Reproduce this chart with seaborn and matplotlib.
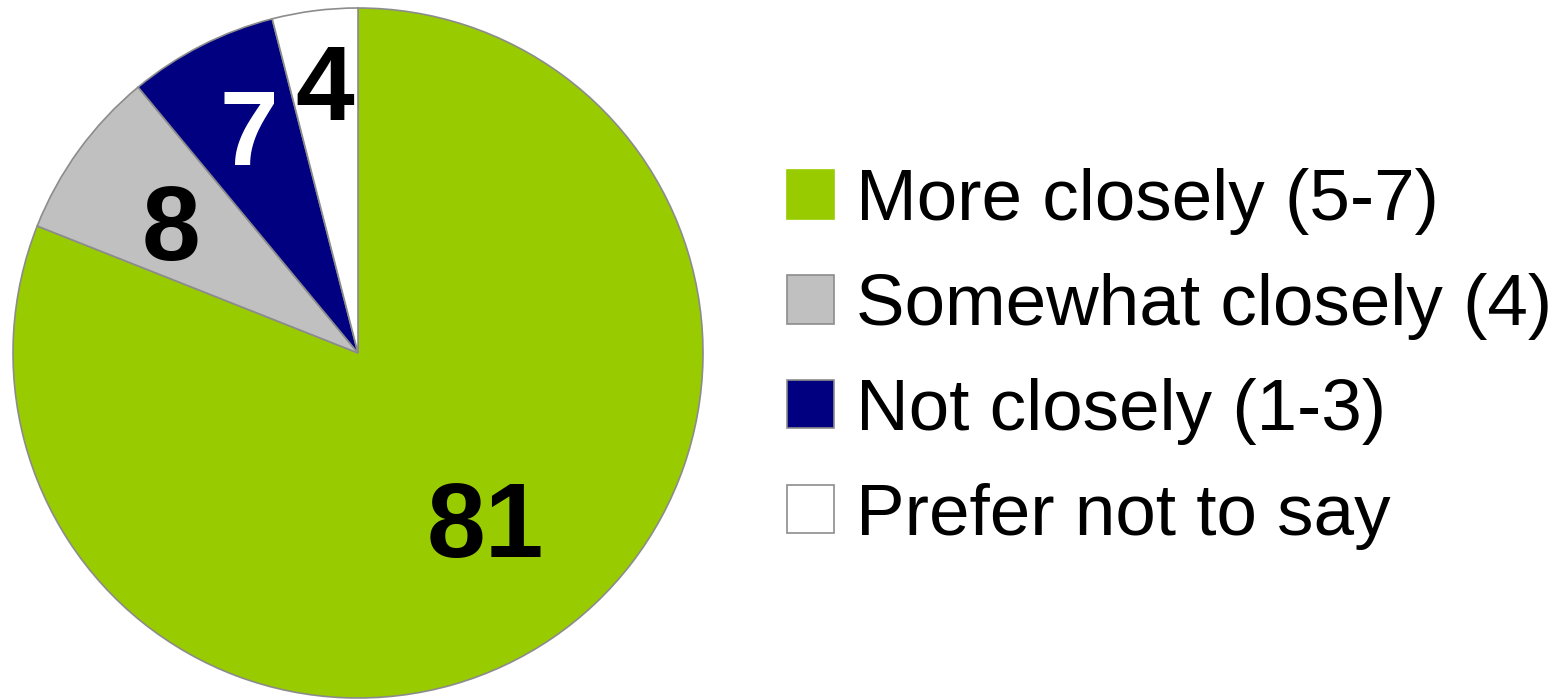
import matplotlib
matplotlib.use("Agg")
import matplotlib.pyplot as plt
import seaborn as sns
import numpy as np

sns.set_theme(style="white")
plt.rcParams['font.family'] = ['Liberation Sans', 'DejaVu Sans']
plt.rcParams['text.color'] = 'black'

categories = ["More closely (5-7)", "Somewhat closely (4)", "Not closely (1-3)", "Prefer not to say"]
values = [81, 8, 7, 4]
colors = ["#99cc00", "#c0c0c0", "#000080", "#ffffff"]
label_colors = ["black", "black", "white", "black"]
label_dist = [0.63, 0.645, 0.70, 0.76]
label_turn = [1.7, 3.1, 0.0, 0.0]

W, H = 1556, 699
fig = plt.figure(figsize=(W / 100, H / 100), dpi=100)
fig.patch.set_facecolor("white")

cx, cy, r = 358, 353, 345
ax = fig.add_axes([(cx - r) / W, (H - cy - r) / H, 2 * r / W, 2 * r / H])
wedges, _ = ax.pie(values, colors=colors, startangle=90, counterclock=False,
                   radius=1.0, wedgeprops=dict(edgecolor="#8c8c8c", linewidth=1.2))
ax.set_xlim(-1, 1)
ax.set_ylim(-1, 1)
ax.set_aspect("equal")
ax.axis("off")

for w, v, c, d, t in zip(wedges, values, label_colors, label_dist, label_turn):
    mid = np.deg2rad((w.theta1 + w.theta2) / 2 + t)
    ax.text(d * np.cos(mid), d * np.sin(mid), str(v), ha="center", va="center",
            fontsize=76, fontweight="bold", color=c)

leg = fig.legend(wedges, categories, loc="center left",
                 bbox_to_anchor=(787 / W, 1 - 359 / H), frameon=False,
                 fontsize=52.5, handlelength=0.64, handleheight=0.64,
                 handletextpad=0.30, labelspacing=0.52, borderpad=0,
                 borderaxespad=0, labelcolor="black")
for h in leg.legend_handles:
    h.set_edgecolor("#8c8c8c")
    h.set_linewidth(1.2)
leg.legend_handles[0].set_edgecolor("#99cc00")

fig.savefig("out.png", dpi=100, facecolor="white")
